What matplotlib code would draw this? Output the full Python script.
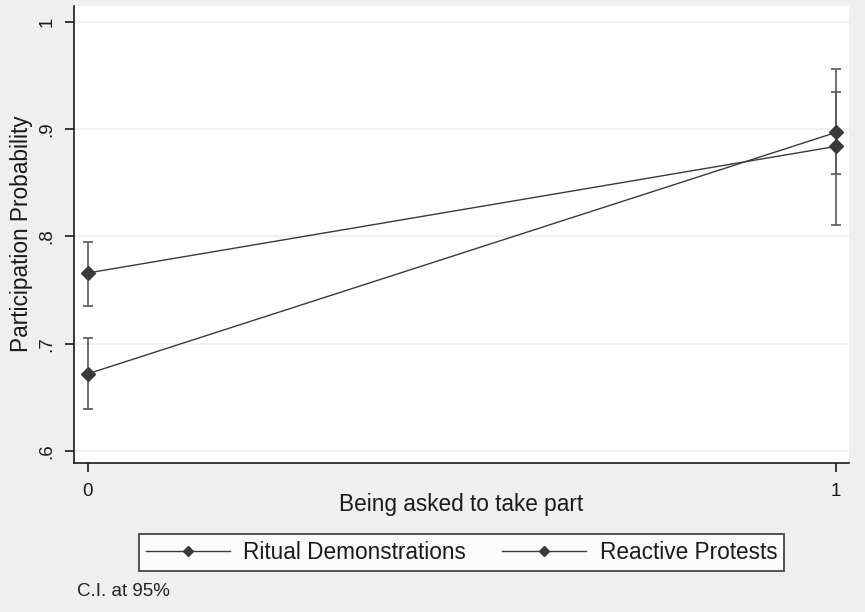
import matplotlib
matplotlib.use("Agg")
import matplotlib.pyplot as plt

plt.rcParams['font.family'] = ['Liberation Sans', 'DejaVu Sans']

# predicted probabilities by asked / not asked
asked = [0, 1]
ritual = [0.766, 0.884]
ritual_lo = [0.735, 0.811]
ritual_hi = [0.795, 0.956]
reactive = [0.672, 0.897]
reactive_lo = [0.639, 0.858]
reactive_hi = [0.705, 0.935]
yticks = [0.6, 0.7, 0.8, 0.9, 1.0]
ytick_labels = ['.6', '.7', '.8', '.9', '1']

W, H = 865, 612
fig = plt.figure(figsize=(W / 100, H / 100), dpi=100)
fig.patch.set_facecolor('#efefef')
ax = fig.add_axes([74 / W, 1 - 463 / H, (849 - 74) / W, (463 - 6) / H])
ax.set_facecolor('white')

col = '#3a3a3a'
for y, lo, hi, name in [(ritual, ritual_lo, ritual_hi, 'Ritual Demonstrations'),
                        (reactive, reactive_lo, reactive_hi, 'Reactive Protests')]:
    err = [[v - l for v, l in zip(y, lo)], [h - v for v, h in zip(y, hi)]]
    ax.errorbar(asked, y, yerr=err, fmt='none', ecolor='#585858', elinewidth=1.2,
                capsize=3.8, capthick=1.2, zorder=2)
    ax.plot(asked, y, color=col, lw=1.0, marker='D', ms=7, mfc=col, mec=col,
            label=name, zorder=3)

ax.set_xlim(-0.0187, 1.0174)
ax.set_ylim(0.5888, 1.0149)
ax.set_xticks(asked)
ax.set_xticklabels(['0', '1'])
ax.set_yticks(yticks)
ax.set_yticklabels(ytick_labels, rotation=90, va='center')
ax.grid(axis='y', color='#ededed', lw=1.2)
ax.set_axisbelow(True)
for s in ['top', 'right']:
    ax.spines[s].set_visible(False)
for s in ['left', 'bottom']:
    ax.spines[s].set_linewidth(1.2)
    ax.spines[s].set_color('#1a1a1a')
ax.tick_params(axis='both', labelsize=13.5, length=6.5, width=1.2, colors='#1a1a1a')
ax.tick_params(axis='y', pad=7)
ax.tick_params(axis='x', pad=8)

# axis titles placed in figure pixels
fig.text(22 / W, 1 - 234 / H, 'Participation Probability', fontsize=16.3,
         rotation=90, ha='center', va='center', color='#1a1a1a')
fig.text(461 / W, 1 - 505 / H, 'Being asked to take part', fontsize=16.3,
         ha='center', va='center', color='#1a1a1a')

# legend sits below the plot region
leg = ax.legend(loc='center', bbox_to_anchor=(461.5 / W, 1 - 552.5 / H),
                bbox_transform=fig.transFigure, ncol=2, frameon=True, fancybox=False,
                fontsize=16.3, handlelength=3.7, markerscale=0.7, columnspacing=1.6,
                borderpad=0.3, handletextpad=0.6, borderaxespad=0)
leg.get_frame().set_edgecolor('#1a1a1a')
leg.get_frame().set_linewidth(1.3)
leg.get_frame().set_facecolor('white')
for t in leg.get_texts():
    t.set_color('#1a1a1a')

fig.text(77 / W, 1 - 592 / H, 'C.I. at 95%', fontsize=13.5, va='center', color='#222222')

fig.savefig('out.png', dpi=100, facecolor=fig.get_facecolor())
